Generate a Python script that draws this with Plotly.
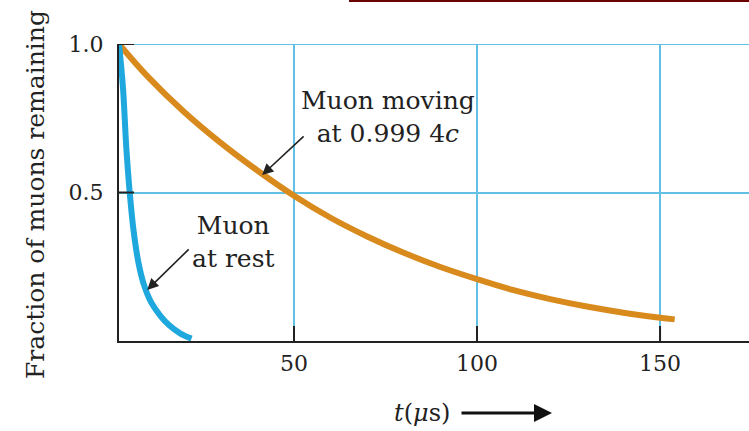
import plotly.graph_objects as go

# Data (time in microseconds, fraction remaining)
moving_t = [2.2, 10, 20, 30, 40, 50, 60, 70, 80, 90, 100, 110, 120, 130, 140, 150, 154]
moving_f = [1.0, 0.891, 0.771, 0.667, 0.574, 0.489, 0.415, 0.352, 0.297, 0.249, 0.208, 0.171, 0.141, 0.116, 0.0954, 0.0785, 0.0728]

rest_t = [2.2, 3.3, 4.2, 5.2, 6.2, 7.5, 9.0, 11.0, 13.5, 16.0, 19.0, 22.0]
rest_f = [1.0, 0.85, 0.65, 0.49, 0.37, 0.265, 0.19, 0.13, 0.085, 0.052, 0.025, 0.008]

x_ticks = [50, 100, 150]
x_tick_labels = ["50", "100", "150"]
y_ticks = [0.5, 1.0]
y_tick_labels = ["0.5", "1.0"]

FONT = "DejaVu Serif"
GRID = "#62c0e4"
ORANGE = "#d98a1c"
BLUE = "#1fa8de"
INK = "#222222"

# plot area in pixels
L, R, T, B = 119, 749, 44, 341
PW, PH = R - L, B - T

fig = go.Figure()
fig.add_trace(go.Scatter(x=moving_t, y=moving_f, mode="lines",
                         line=dict(color=ORANGE, width=6, shape="spline", smoothing=1.0),
                         hoverinfo="skip", showlegend=False))
fig.add_trace(go.Scatter(x=rest_t, y=rest_f, mode="lines",
                         line=dict(color=BLUE, width=6, shape="spline", smoothing=1.0),
                         hoverinfo="skip", showlegend=False))

fig.update_layout(
    width=749, height=431,
    margin=dict(l=L, r=749 - R, t=T, b=431 - B),
    paper_bgcolor="white", plot_bgcolor="white",
    font=dict(family=FONT, color=INK, size=22),
    showlegend=False,
)

fig.update_xaxes(
    range=[2.2, 174.3], tickvals=x_ticks, ticktext=x_tick_labels,
    showgrid=True, gridcolor=GRID, gridwidth=2,
    ticks="", showline=True, linecolor=INK, linewidth=2,
    zeroline=False, ticklabelstandoff=2, automargin=False,
    tickfont=dict(family=FONT, size=22, color=INK),
)
fig.update_yaxes(
    range=[0, 1.0], tickvals=y_ticks, ticktext=y_tick_labels,
    showgrid=True, gridcolor=GRID, gridwidth=2,
    ticks="", showline=True, linecolor=INK, linewidth=2,
    zeroline=False, ticklabelstandoff=9, automargin=False,
    tickfont=dict(family=FONT, size=22, color=INK),
)

# top gridline at 1.0
fig.add_shape(type="line", xref="paper", yref="y", x0=0, x1=1, y0=1.0, y1=1.0,
              line=dict(color=GRID, width=2), layer="below")

# inward black ticks
for xv in x_ticks:
    fig.add_shape(type="line", xref="x", yref="paper", x0=xv, x1=xv, y0=0, y1=15 / PH,
                  line=dict(color=INK, width=2))
for yv in y_ticks:
    fig.add_shape(type="line", xref="paper", yref="y", x0=0, x1=15 / PW, y0=yv, y1=yv,
                  line=dict(color=INK, width=2))

# y-axis title
fig.add_annotation(x=(35 - L) / PW, y=(B - 195) / PH, xref="paper", yref="paper",
                   xanchor="center", yanchor="middle",
                   text="Fraction of muons remaining", textangle=-90, showarrow=False,
                   font=dict(family=FONT, size=25, color=INK))

# Curve labels with arrows
fig.add_annotation(x=75.7, y=0.754, xref="x", yref="y", xanchor="center", yanchor="middle",
                   text="Muon moving<br>at 0.999 4<i>c</i>", showarrow=False,
                   font=dict(family=FONT, size=25, color=INK), align="center")
fig.add_annotation(x=41.3, y=0.559, xref="x", yref="y", ax=43, ay=-40,
                   text="", showarrow=True, arrowhead=2, arrowsize=1.4,
                   arrowwidth=1.6, arrowcolor=INK)

fig.add_annotation(x=33.5, y=0.335, xref="x", yref="y", xanchor="center", yanchor="middle",
                   text="Muon<br>at rest", showarrow=False,
                   font=dict(family=FONT, size=25, color=INK), align="center")
fig.add_annotation(x=9.9, y=0.172, xref="x", yref="y", ax=43, ay=-42,
                   text="", showarrow=True, arrowhead=2, arrowsize=1.4,
                   arrowwidth=1.6, arrowcolor=INK)

# x-axis title with arrow
fig.add_annotation(x=(422 - L) / PW, y=(B - 413) / PH, xref="paper", yref="paper",
                   xanchor="center", yanchor="middle",
                   text="<i>t</i>(<i>μ</i>s)", showarrow=False,
                   font=dict(family=FONT, size=24, color=INK))
fig.add_annotation(x=(552 - L) / PW, y=(B - 413) / PH, xref="paper", yref="paper",
                   ax=-92, ay=0, text="", showarrow=True, arrowhead=2, arrowsize=1.2,
                   arrowwidth=3, arrowcolor="#111111")

# dark red fragment at top
fig.add_shape(type="line", xref="paper", yref="paper",
              x0=(349 - L) / PW, x1=1.0, y0=(B - 1) / PH, y1=(B - 1) / PH,
              line=dict(color="#6b0000", width=2))

fig.write_html("out.html", config={"displayModeBar": False},
               post_script="document.body.style.margin='0px';")
